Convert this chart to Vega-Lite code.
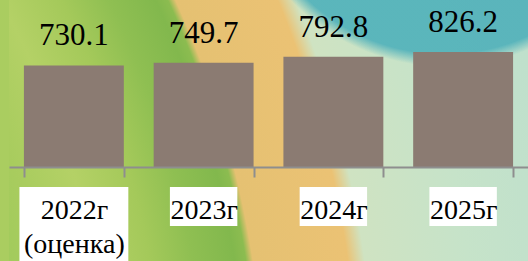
{
  "$schema": "https://vega.github.io/schema/vega-lite/v6.json",
  "width": 519,
  "height": 261,
  "autosize": {"type": "none"},
  "padding": {"left": 9, "top": 0, "right": 0, "bottom": 0},
  "background": "#aacd60",
  "config": {"view": {"stroke": null}},
  "data": {
    "values": [
      {"year": "2022г (оценка)", "value": 730.1},
      {"year": "2023г", "value": 749.7},
      {"year": "2024г", "value": 792.8},
      {"year": "2025г", "value": 826.2}
    ]
  },
  "resolve": {"axis": {"x": "independent", "y": "independent"}},
  "layer": [
    {
      "transform": [{"aggregate": [{"op": "count", "as": "n"}], "groupby": []}],
      "mark": {
        "type": "rect",
        "color": {
          "gradient": "radial",
          "x1": -1.418, "y1": 1.0385, "r1": 0,
          "x2": -1.418, "y2": 1.0385, "r2": 2.6975,
          "stops": [
            {"offset": 0, "color": "#a0cb5c"},
            {"offset": 0.53, "color": "#a0cb5c"},
            {"offset": 0.556, "color": "#a8cc5e"},
            {"offset": 0.596, "color": "#b4d166"},
            {"offset": 0.635, "color": "#a4c95a"},
            {"offset": 0.665, "color": "#8fbf52"},
            {"offset": 0.695, "color": "#82b84d"},
            {"offset": 0.703, "color": "#8cbc50"},
            {"offset": 0.708, "color": "#e5c172"},
            {"offset": 0.775, "color": "#ebc274"},
            {"offset": 0.787, "color": "#cfe3c2"},
            {"offset": 0.86, "color": "#c6e3c9"},
            {"offset": 0.93, "color": "#bfe0cc"},
            {"offset": 1, "color": "#bfe0cc"}
          ]
        }
      },
      "encoding": {}
    },
    {
      "transform": [{"aggregate": [{"op": "count", "as": "n"}], "groupby": []}],
      "mark": {
        "type": "rect",
        "color": {
          "gradient": "radial",
          "x1": 0.84, "y1": -0.033, "r1": 0,
          "x2": 0.84, "y2": -0.033, "r2": 0.41,
          "stops": [
            {"offset": 0, "color": "rgba(85,179,187,0.95)"},
            {"offset": 0.94, "color": "rgba(85,179,187,0.95)"},
            {"offset": 1, "color": "rgba(85,179,187,0)"}
          ]
        }
      },
      "encoding": {}
    },
    {
      "transform": [{"filter": "datum.year === '2022г (оценка)'"}],
      "mark": {"type": "rect", "color": "white", "width": {"band": 1.09}},
      "encoding": {
        "x": {"field": "year", "type": "nominal", "sort": null, "axis": null},
        "y": {"datum": -143.7, "type": "quantitative", "axis": null},
        "y2": {"datum": -675.5}
      }
    },
    {
      "transform": [{"filter": "datum.year !== '2022г (оценка)'"}],
      "mark": {"type": "rect", "color": "white", "width": {"band": 0.675}},
      "encoding": {
        "x": {"field": "year", "type": "nominal", "sort": null, "axis": null},
        "y": {"datum": -143.7, "type": "quantitative", "axis": null},
        "y2": {"datum": -424}
      }
    },
    {
      "mark": {"type": "bar", "color": "#8b7b72"},
      "encoding": {
        "x": {
          "field": "year",
          "type": "nominal",
          "sort": null,
          "scale": {"paddingInner": 0.23, "paddingOuter": 0.115},
          "axis": {
            "title": null,
            "orient": "bottom",
            "offset": -94,
            "domainColor": "#8e8e8e",
            "domainWidth": 2,
            "tickColor": "#8e8e8e",
            "tickWidth": 2,
            "tickSize": 10,
            "tickBand": "extent",
            "labelFont": "Liberation Serif, DejaVu Serif, serif",
            "labelFontSize": 28,
            "labelColor": "black",
            "labelAngle": 0,
            "labelPadding": 41,
            "labelBaseline": "alphabetic",
            "labelLineHeight": 34,
            "labelExpr": "split(datum.label, ' ')",
            "labelOverlap": false,
            "labelBound": false,
            "labelFlush": false,
            "zindex": 1
          }
        },
        "y": {
          "field": "value",
          "type": "quantitative",
          "scale": {"domain": [-675.5, 1200], "nice": false},
          "axis": null
        }
      }
    },
    {
      "mark": {
        "type": "text",
        "font": "Liberation Serif, DejaVu Serif, serif",
        "fontSize": 31,
        "baseline": "alphabetic",
        "dy": -20,
        "color": "black"
      },
      "encoding": {
        "x": {"field": "year", "type": "nominal", "sort": null, "axis": null},
        "y": {"field": "value", "type": "quantitative", "axis": null},
        "text": {"field": "value", "type": "quantitative", "format": ".1f"}
      }
    }
  ]
}
